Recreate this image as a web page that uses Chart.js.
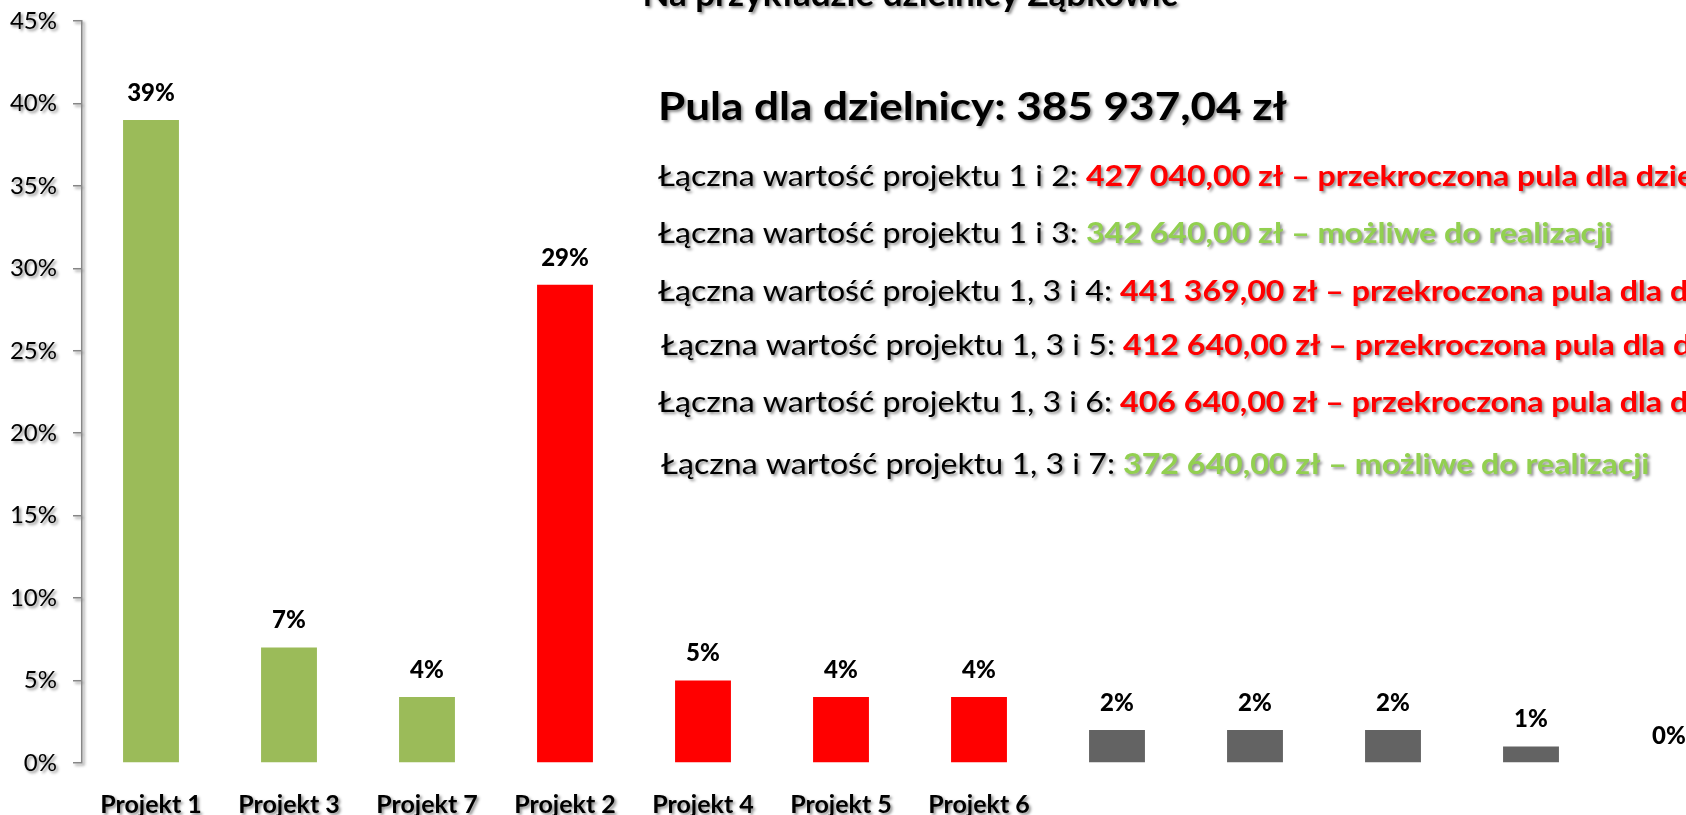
<!DOCTYPE html>
<html lang="pl">
<head>
<meta charset="utf-8">
<title>Na przykładzie dzielnicy Ząbkowic</title>
<script src="https://cdn.jsdelivr.net/npm/chart.js@4.4.1/dist/chart.umd.min.js"></script>
<style>
    html, body { margin: 0; padding: 0; background: #ffffff; overflow: hidden; }
    /* the slide is cropped: canvas starts above the window and runs past its right edge */
    #wrap { position: absolute; left: 0; top: -40px; width: 1760px; height: 900px; }
</style>
</head>
<body>
<div id="wrap"><canvas id="chart"></canvas></div>
<script>
// --- data ---
const chartTitle = 'Na przykładzie dzielnicy Ząbkowic';
const categories = ['Projekt 1', 'Projekt 3', 'Projekt 7', 'Projekt 2', 'Projekt 4', 'Projekt 5', 'Projekt 6', '', '', '', '', ''];
const shares = [39, 7, 4, 29, 5, 4, 4, 2, 2, 2, 1, 0];
const groups = ['ok', 'ok', 'ok', 'over', 'over', 'over', 'over', 'rest', 'rest', 'rest', 'rest', 'rest'];
const yMax = 45;
const yStep = 5;

const poolText = 'Pula dla dzielnicy: 385 937,04 zł';
const comboPrefixes = [
    'Łączna wartość projektu 1 i 2: ',
    'Łączna wartość projektu 1 i 3: ',
    'Łączna wartość projektu 1, 3 i 4: ',
    'Łączna wartość projektu 1, 3 i 5: ',
    'Łączna wartość projektu 1, 3 i 6: ',
    'Łączna wartość projektu 1, 3 i 7: '
];
const comboAmounts = ['427 040,00 zł', '342 640,00 zł', '441 369,00 zł', '412 640,00 zł', '406 640,00 zł', '372 640,00 zł'];
const comboFits = [false, true, false, false, false, true];
const fitText = '– możliwe do realizacji';
const overText = '– przekroczona pula dla dzielnicy';

// --- styles ---
const FONT = 'Lato, "Open Sans", sans-serif';
const groupColors = { ok: '#9BBB59', over: '#FF0000', rest: '#636363' };
const textGreen = '#92D050';
const textRed = '#FF0000';

function setShadow(ctx) {
    ctx.shadowColor = 'rgba(0, 0, 0, 0.45)';
    ctx.shadowBlur = 3;
    ctx.shadowOffsetX = 2;
    ctx.shadowOffsetY = 2;
}

// value labels above every bar
const valueLabels = {
    id: 'valueLabels',
    afterDatasetsDraw(chart) {
        const ctx = chart.ctx;
        const meta = chart.getDatasetMeta(0);
        ctx.save();
        ctx.font = '900 24px ' + FONT;
        ctx.fillStyle = '#000000';
        ctx.textAlign = 'center';
        ctx.textBaseline = 'middle';
        meta.data.forEach((bar, i) => {
            ctx.fillText(shares[i] + '%', bar.x, bar.y - 27);
        });
        ctx.restore();
    }
};

// text box on the slide: pool and combinations of projects
const slideText = {
    id: 'slideText',
    afterDraw(chart) {
        const ctx = chart.ctx;
        const left = chart.chartArea.left;
        ctx.save();
        setShadow(ctx);
        ctx.textBaseline = 'alphabetic';

        // headline
        ctx.font = 'bold 39px ' + FONT;
        let sx = 629 / ctx.measureText(poolText).width;
        ctx.save();
        ctx.translate(left + 576, 160);
        ctx.scale(sx, 1);
        ctx.fillStyle = '#000000';
        ctx.fillText(poolText, 0, 0);
        ctx.restore();

        const lineY = [226, 283, 341, 395, 452, 514];
        const lineX = [576, 576, 576, 579, 576, 579];
        comboPrefixes.forEach((prefix, i) => {
            ctx.save();
            ctx.translate(left + lineX[i], lineY[i]);
            ctx.font = '28px ' + FONT;
            const w = ctx.measureText(comboPrefixes[0]).width;
            ctx.scale(428 / w, 1);
            ctx.fillStyle = '#000000';
            ctx.fillText(prefix, 0, 0);
            const pw = ctx.measureText(prefix).width;
            ctx.font = 'bold 28px ' + FONT;
            ctx.fillStyle = comboFits[i] ? textGreen : textRed;
            ctx.fillText(comboAmounts[i] + ' ' + (comboFits[i] ? fitText : overText), pw, 0);
            ctx.restore();
        });
        ctx.restore();
    }
};

// shadow under the title and the category labels (y axis is drawn later, without it)
const boxShadow = {
    id: 'boxShadow',
    beforeDraw(chart) {
        chart.ctx.save();
        setShadow(chart.ctx);
    },
    beforeDatasetsDraw(chart) {
        chart.ctx.restore();
    }
};

const ctx = document.getElementById('chart').getContext('2d');
new Chart(ctx, {
    type: 'bar',
    data: {
        labels: categories,
        datasets: [{
            data: shares,
            backgroundColor: groups.map(g => groupColors[g]),
            borderWidth: 0,
            barPercentage: 0.81,
            categoryPercentage: 0.5
        }]
    },
    options: {
        responsive: true,
        maintainAspectRatio: false,
        animation: false,
        layout: { padding: { left: 0, right: 22, top: 0, bottom: 0 } },
        plugins: {
            legend: { display: false },
            tooltip: { enabled: false },
            title: {
                display: true,
                text: chartTitle,
                fullSize: false,
                color: '#000000',
                font: { family: FONT, size: 35, weight: 'bold', lineHeight: 1.2 },
                padding: { top: 14, bottom: 5 }
            }
        },
        scales: {
            x: {
                grid: { display: false, drawTicks: false },
                border: { display: false },
                ticks: {
                    color: '#000000',
                    padding: 27,
                    maxRotation: 0,
                    autoSkip: false,
                    font: { family: FONT, size: 25, weight: 'bold' }
                },
                afterFit(scale) { scale.height = 97; }
            },
            y: {
                z: 1,
                min: 0,
                max: yMax,
                grid: { drawOnChartArea: false, drawTicks: true, tickLength: 9, color: '#868686', lineWidth: 1.5 },
                border: { display: true, color: '#868686', width: 1.5 },
                ticks: {
                    stepSize: yStep,
                    color: '#000000',
                    padding: 16,
                    font: { family: FONT, size: 24 },
                    callback: v => v + '%'
                },
                afterFit(scale) { scale.width = 82; }
            }
        }
    },
    plugins: [boxShadow, valueLabels, slideText]
});
</script>
</body>
</html>
